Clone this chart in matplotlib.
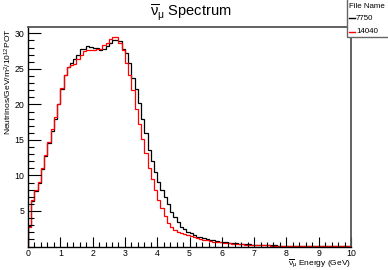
import numpy as np
import matplotlib
matplotlib.use("Agg")
import matplotlib.pyplot as plt
from matplotlib.patches import Rectangle
from matplotlib.lines import Line2D
from matplotlib.ticker import MultipleLocator

plt.rcParams['font.family'] = ['Liberation Sans', 'DejaVu Sans']
plt.rcParams['mathtext.fontset'] = 'custom'
plt.rcParams['mathtext.rm'] = 'Liberation Sans'
plt.rcParams['mathtext.it'] = 'Liberation Sans'
plt.rcParams['mathtext.bf'] = 'Liberation Sans:bold'

bin_edges = np.round(np.arange(0, 10.0001, 0.1), 2)

flux_7750 = [
    2.9, 6.4, 7.8, 9.0, 10.9, 12.7, 14.5, 16.3, 18.0, 20.0,
    22.2, 24.2, 25.2, 25.9, 26.4, 26.9, 27.8, 27.8, 28.2, 28.1,
    27.9, 28.0, 27.6, 27.8, 28.2, 28.7, 29.1, 29.0, 28.9, 27.8,
    27.3, 25.9, 23.7, 22.2, 20.2, 18.0, 16.0, 13.6, 12.1, 10.5,
    9.1, 8.0, 7.0, 6.0, 4.9, 4.1, 3.5, 2.8, 2.4, 2.1,
    1.85, 1.6, 1.4, 1.3, 1.15, 1.05, 0.95, 0.85, 0.8, 0.7,
    0.65, 0.6, 0.55, 0.5, 0.45, 0.4, 0.37, 0.34, 0.3, 0.28,
    0.25, 0.23, 0.21, 0.19, 0.17, 0.16, 0.15, 0.14, 0.13, 0.12,
    0.11, 0.1, 0.1, 0.09, 0.09, 0.08, 0.08, 0.08, 0.07, 0.07,
    0.07, 0.06, 0.06, 0.06, 0.06, 0.05, 0.05, 0.05, 0.05, 0.05,
]

flux_14040 = [
    2.8, 6.5, 7.9, 9.1, 11.0, 12.9, 14.7, 16.5, 18.3, 20.1,
    22.3, 24.2, 25.3, 25.6, 25.7, 26.4, 27.0, 27.5, 27.6, 27.7,
    27.7, 27.8, 27.8, 28.3, 28.6, 29.2, 29.5, 29.5, 28.6, 27.6,
    25.9, 24.2, 22.1, 19.3, 17.2, 15.2, 13.2, 11.1, 9.5, 8.0,
    6.55, 5.4, 4.3, 3.35, 2.7, 2.3, 2.1, 1.95, 1.76, 1.6,
    1.48, 1.3, 1.15, 1.05, 0.95, 0.85, 0.78, 0.7, 0.63, 0.57,
    0.52, 0.47, 0.43, 0.39, 0.35, 0.32, 0.29, 0.27, 0.25, 0.23,
    0.21, 0.19, 0.17, 0.16, 0.15, 0.14, 0.13, 0.12, 0.11, 0.1,
    0.1, 0.09, 0.09, 0.08, 0.08, 0.07, 0.07, 0.07, 0.06, 0.06,
    0.06, 0.05, 0.05, 0.05, 0.05, 0.05, 0.04, 0.04, 0.04, 0.04,
]

series_names = ["7750", "14040"]
series_colors = ["#000000", "#ff0000"]

W, H = 388, 270
fig = plt.figure(figsize=(W / 100, H / 100), dpi=100)
ax = fig.add_axes([28 / W, 1 - 246.5 / H, (351 - 28) / W, (246.5 - 27) / H])

for vals, col in zip([flux_7750, flux_14040], series_colors):
    ax.stairs(vals, bin_edges, color=col, lw=0.9)

ax.set_xlim(0, 10)
ax.set_ylim(0, 30.9)

ax.xaxis.set_major_locator(MultipleLocator(1))
ax.xaxis.set_minor_locator(MultipleLocator(0.2))
ax.yaxis.set_major_locator(MultipleLocator(5))
ax.yaxis.set_minor_locator(MultipleLocator(1))
ax.set_yticks([5, 10, 15, 20, 25, 30])

ax.tick_params(axis='both', which='both', direction='in', top=False, right=False,
               labelsize=6.3, colors='black')
ax.tick_params(axis='y', which='both', pad=2.5)
ax.tick_params(axis='x', which='both', pad=1.5)
ax.tick_params(axis='y', which='major', length=9, width=0.8)
ax.tick_params(axis='y', which='minor', length=4.5, width=0.8)
ax.tick_params(axis='x', which='major', length=7, width=0.8)
ax.tick_params(axis='x', which='minor', length=3.5, width=0.8)

for s in ['left', 'bottom']:
    ax.spines[s].set_color('black')
    ax.spines[s].set_linewidth(1.0)
for s in ['top', 'right']:
    ax.spines[s].set_color('#555555')
    ax.spines[s].set_linewidth(1.3)

fig.text(191 / W, 1 - 12 / H, r"$\overline{\nu}_{\mu}$ Spectrum", ha='center', va='center',
         fontsize=10.5)
fig.text(351 / W, 1 - 269 / H, r"$\overline{\nu}_{\mu}$ Energy (GeV)", ha='right', va='bottom',
         fontsize=6.0)
fig.text(8 / W, 1 - 28 / H, r"Neutrinos/GeV/m$^{2}$/10$^{12}$POT", ha='center', va='top',
         rotation=90, fontsize=6.1)

# legend box (ROOT TLegend at top-right corner)
fig.patches.append(Rectangle((347 / W, 1 - 37 / H), 60 / W, 40 / H, transform=fig.transFigure,
                             facecolor='white', edgecolor='#666666', lw=1.0, zorder=5))
fig.text(349 / W, 1 - 6.5 / H, "File Name", fontsize=5.7, ha='left', va='center', zorder=6)
legend_y = [18, 31.5]
for name, col, yy in zip(series_names, series_colors, legend_y):
    fig.lines.append(Line2D([349 / W, 355 / W], [1 - yy / H, 1 - yy / H], color=col, lw=1.0,
                            transform=fig.transFigure, zorder=6))
    fig.text(356 / W, 1 - yy / H, name, fontsize=5.7, ha='left', va='center', zorder=6)

fig.savefig("out.png", dpi=100)
